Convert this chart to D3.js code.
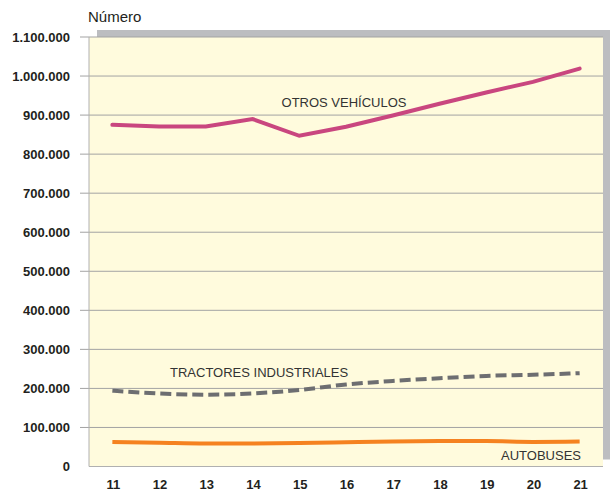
<!DOCTYPE html>
<html><head><meta charset="utf-8">
<script src="https://cdn.jsdelivr.net/npm/d3@7"></script>
<style>
html,body{margin:0;padding:0;background:#fff;}
svg{display:block;}
</style></head>
<body><svg id="c" width="610" height="492"></svg>
<script>
const years = ["11","12","13","14","15","16","17","18","19","20","21"];
const otrosVehiculos = [875000, 871000, 871000, 890000, 847000, 870000, 899000, 929000, 958000, 985000, 1019000];
const tractoresIndustriales = [194000, 187000, 184000, 187000, 196000, 210000, 219000, 226000, 232000, 235000, 239000];
const autobuses = [63000, 61000, 59000, 59000, 60000, 62000, 64000, 65000, 65000, 63000, 64000];
const yTicks = [0,100000,200000,300000,400000,500000,600000,700000,800000,900000,1000000,1100000];
const yTitle = "Número";
const seriesLabels = ["OTROS VEHÍCULOS","TRACTORES INDUSTRIALES","AUTOBUSES"];

const svg = d3.select("#c");
const L = 89, R = 603, T = 37, B = 466.5;
const x = d3.scalePoint().domain(years).range([L, R]).padding(0.5);
const y = d3.scaleLinear().domain([0, 1100000]).range([B, T]);
const fmt = v => v === 0 ? "0" : d3.format(",")(v).replace(/,/g, ".");

// shadow
svg.append("rect").attr("x", L + 8).attr("y", T - 7).attr("width", R - L + 8).attr("height", B - T)
  .attr("fill", "#bcbdc0");
// plot area
svg.append("rect").attr("x", L).attr("y", T).attr("width", R - L).attr("height", B - T)
  .attr("fill", "#fffbdd");

// gridlines & ticks
const grid = svg.append("g");
yTicks.filter(d => d > 0).forEach(d => {
  grid.append("line").attr("x1", 80).attr("x2", R).attr("y1", y(d)).attr("y2", y(d))
    .attr("stroke", "#a3a3a3").attr("stroke-width", 1);
});
// axes borders
svg.append("line").attr("x1", L).attr("x2", L).attr("y1", T).attr("y2", B).attr("stroke", "#b0b0b0").attr("stroke-width", 1);
svg.append("line").attr("x1", L).attr("x2", R).attr("y1", B).attr("y2", B).attr("stroke", "#b0b0b0").attr("stroke-width", 1);

// y labels
const yl = svg.append("g").attr("font-family", "'Liberation Sans', Arial, sans-serif")
  .attr("font-weight", "bold").attr("font-size", 13).attr("fill", "#231f20");
yTicks.forEach(d => {
  yl.append("text").attr("x", 70).attr("y", y(d) + 4.5).attr("text-anchor", "end").text(fmt(d));
});
// x labels
years.forEach(d => {
  yl.append("text").attr("x", x(d) + 1).attr("y", 489).attr("text-anchor", "middle").text(d);
});

svg.append("text").attr("x", 88).attr("y", 22).attr("font-family", "'Liberation Sans', Arial, sans-serif")
  .attr("font-size", 15).attr("fill", "#231f20").text(yTitle);

const line = curve => d3.line().x((d, i) => x(years[i])).y(d => y(d)).curve(curve);

svg.append("path").datum(autobuses).attr("d", line(d3.curveMonotoneX))
  .attr("fill", "none").attr("stroke", "#f58220").attr("stroke-width", 4);
svg.append("path").datum(tractoresIndustriales).attr("d", line(d3.curveMonotoneX))
  .attr("fill", "none").attr("stroke", "#6d6e71").attr("stroke-width", 4).attr("stroke-dasharray", "11,5");
svg.append("path").datum(otrosVehiculos).attr("d", line(d3.curveLinear))
  .attr("fill", "none").attr("stroke", "#c9467f").attr("stroke-width", 4).attr("stroke-linecap", "round");

const lab = svg.append("g").attr("font-family", "'Liberation Sans', Arial, sans-serif")
  .attr("font-size", 13).attr("fill", "#333333");
lab.append("text").attr("x", 344).attr("y", 107).attr("text-anchor", "middle").text(seriesLabels[0]);
lab.append("text").attr("x", 170).attr("y", 377).text(seriesLabels[1]);
lab.append("text").attr("x", 581).attr("y", 460).attr("text-anchor", "end").text(seriesLabels[2]);
</script>
</body></html>
